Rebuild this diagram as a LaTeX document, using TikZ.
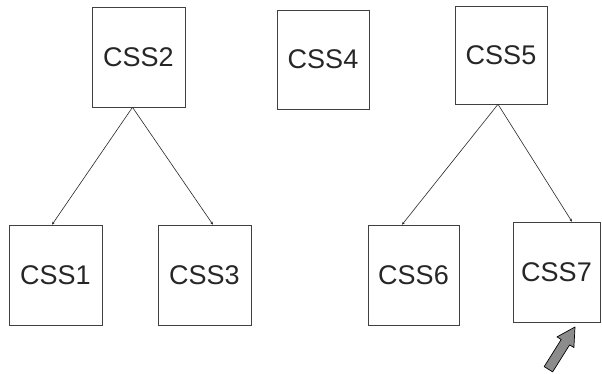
\documentclass[tikz,border=0pt]{standalone}
\usepackage{fontspec}
\setmainfont{Liberation Sans}
\usetikzlibrary{arrows.meta}
\begin{document}
\begin{tikzpicture}[x=1pt,y=-1pt,
  cssbox/.style={draw=black!75, line width=0.6pt, inner sep=0pt, text=black!85,
    font=\fontsize{27}{30}\selectfont, minimum width=#1},
  cssbox/.default=93pt,
  link/.style={draw=black!85, line width=0.6pt, -{Stealth[length=3pt,width=2.5pt]}}]
\useasboundingbox (0,0) rectangle (602,374);
\node[cssbox, minimum height=100pt] (css2) at (138.5,57) {CSS2};
\node[cssbox=92pt, minimum height=99pt] (css4) at (323,59.5) {CSS4};
\node[cssbox=92pt, minimum height=98pt] (css5) at (501,55) {CSS5};
\node[cssbox, minimum height=100pt] (css1) at (55.5,275) {CSS1};
\node[cssbox, minimum height=100pt] (css3) at (204.5,275) {CSS3};
\node[cssbox=91pt, minimum height=100pt] (css6) at (413.5,275) {CSS6};
\node[cssbox=87pt, minimum height=100pt] (css7) at (556.5,272) {CSS7};
\draw[link] ([xshift=-6pt]css2.south) -- ([xshift=-3.5pt]css1.north);
\draw[link] ([xshift=-6pt]css2.south) -- ([xshift=8.5pt]css3.north);
\draw[link] ([xshift=-3pt]css5.south) -- ([xshift=-11.5pt]css6.north);
\draw[link] ([xshift=-3pt]css5.south) -- ([xshift=15.5pt]css7.north);
\draw[draw=black, line width=0.7pt, fill=black!45, line join=round]
  (575,327) -- (573.9,347.5) -- (569.6,344.9) -- (552.6,371.9)
  -- (544.2,366.6) -- (561.2,339.5) -- (557.0,336.9) -- cycle;
\end{tikzpicture}
\end{document}
